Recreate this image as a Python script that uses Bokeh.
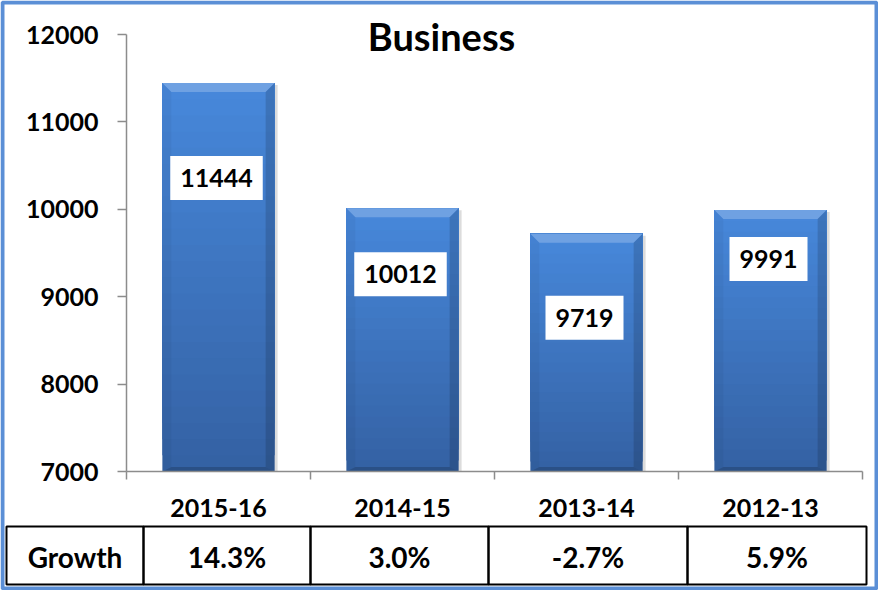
from bokeh.plotting import figure
from bokeh.models import (Range1d, LinearAxis, FixedTicker, BoxAnnotation, Label,
                          ColumnDataSource)
from bokeh.embed import file_html
from bokeh.resources import INLINE
from bokeh.core.properties import value

# ---------------- data ----------------
categories = ["2015-16", "2014-15", "2013-14", "2012-13"]
business = [11444, 10012, 9719, 9991]
growth = ["14.3%", "3.0%", "-2.7%", "5.9%"]
y_ticks = [7000, 8000, 9000, 10000, 11000, 12000]
row_label = "Growth"
title_text = "Business"

# ---------------- layout / style ----------------
W, H = 878, 590
PL, PR, PT, PB = 126, 862, 34, 471          # plot area (canvas px)
Y0, Y1 = 7000, 12000
FONT = "Lato"
FS = "25px"
BAR_W = 0.61
label_drop_px = [95, 66, 84, 49]            # label box centre below bar top (px)
table_cols = [6, 143, 310, 488, 687, 866]   # column edges (canvas px)
table_top, table_bot = 526, 584

n = len(categories)
px_y = (Y1 - Y0) / (PB - PT)                # data units per pixel (y)
px_x = n / (PR - PL)                        # data units per pixel (x)

p = figure(width=W, height=H,
           x_range=Range1d(-PL * px_x, n + (W - PR) * px_x),
           y_range=Range1d(Y0 - (H - PB) * px_y, Y1 + PT * px_y),
           output_backend="svg", toolbar_location=None,
           x_axis_type=None, y_axis_type=None,
           min_border=0, min_border_left=0, min_border_right=0,
           min_border_top=0, min_border_bottom=0)
p.outline_line_color = None
p.background_fill_color = "white"
p.border_fill_color = "white"

# ---------------- axes ----------------
yax = LinearAxis(ticker=FixedTicker(ticks=y_ticks), fixed_location=0, bounds=(Y0, Y1),
                 major_tick_in=0, major_tick_out=9,
                 minor_tick_line_color=None,
                 axis_line_color="#8c8c8c", major_tick_line_color="#8c8c8c",
                 axis_line_width=1.5, major_tick_line_width=1.5,
                 major_label_text_font=FONT, major_label_text_font_style="bold",
                 major_label_text_font_size=FS, major_label_text_color="black",
                 major_label_standoff=19)
p.add_layout(yax, "left")

centers = [i + 0.5 for i in range(n)]
xax = LinearAxis(ticker=FixedTicker(ticks=centers, minor_ticks=list(range(n + 1))),
                 fixed_location=Y0, bounds=(0, n),
                 major_label_overrides={c: cat for c, cat in zip(centers, categories)},
                 major_tick_line_color=None, major_tick_in=0, major_tick_out=0,
                 minor_tick_in=0, minor_tick_out=8,
                 minor_tick_line_color="#8c8c8c", minor_tick_line_width=1.5,
                 axis_line_color="#8c8c8c", axis_line_width=1.5,
                 major_label_text_font=FONT, major_label_text_font_style="bold",
                 major_label_text_font_size=FS, major_label_text_color="black",
                 major_label_standoff=19)
p.add_layout(xax, "below")

# ---------------- bars (gradient, overlapping slices) ----------------
def hex2rgb(h):
    h = h.lstrip("#")
    return tuple(int(h[i:i + 2], 16) for i in (0, 2, 4))

c_bot, c_top = hex2rgb("#3461a3"), hex2rgb("#4788db")
NS = 24
xs, bots, tops, cols = [], [], [], []
for k in range(NS):
    t = (k + 0.5) / NS
    rgb = tuple(int(round(a + (b - a) * t)) for a, b in zip(c_bot, c_top))
    for c, v in zip(centers, business):
        xs.append(c)
        bots.append(Y0 + (v - Y0) * k / NS)
        tops.append(v)
        cols.append("#%02x%02x%02x" % rgb)

# soft shadow
p.vbar(x=[c + 3 * px_x for c in centers], top=[v - 2 * px_y for v in business],
       bottom=Y0, width=BAR_W, fill_color="#9a9a9a", fill_alpha=0.35, line_color=None)
p.vbar(x=xs, bottom=bots, top=tops, width=BAR_W, fill_color=cols, line_color=None)

# bevel overlays
bx, bh = 9 * px_x, 9 * px_y
top_x, top_y, rt_x, rt_y, bt_x, bt_y, lf_x, lf_y = [], [], [], [], [], [], [], []
for c, v in zip(centers, business):
    l, r = c - BAR_W / 2, c + BAR_W / 2
    top_x.append([l, r, r - bx, l + bx]); top_y.append([v, v, v - bh, v - bh])
    rt_x.append([r, r, r - bx, r - bx]); rt_y.append([v, Y0, Y0 + bh * 0.5, v - bh])
    bt_x.append([l, r, r - bx, l + bx]); bt_y.append([Y0, Y0, Y0 + bh * 0.5, Y0 + bh * 0.5])
    lf_x.append([l, l, l + bx, l + bx]); lf_y.append([v, Y0, Y0 + bh * 0.5, v - bh])
p.patches(top_x, top_y, fill_color="white", fill_alpha=0.22, line_color=None)
p.patches(lf_x, lf_y, fill_color="black", fill_alpha=0.04, line_color=None)
p.patches(rt_x, rt_y, fill_color="black", fill_alpha=0.14, line_color=None)
p.patches(bt_x, bt_y, fill_color="black", fill_alpha=0.18, line_color=None)

# ---------------- value labels ----------------
lab_src = ColumnDataSource(dict(
    x=centers,
    y=[v - d * px_y for v, d in zip(business, label_drop_px)],
    t=[str(v) for v in business]))
p.text(x="x", y="y", text="t", source=lab_src, x_offset=-2,
       text_font=value(FONT), text_font_style="bold", text_font_size=FS,
       text_color="black", text_align="center", text_baseline="middle",
       background_fill_color="white", padding=(10, 13))

# ---------------- title ----------------
p.add_layout(Label(x=441, y=35, x_units="canvas", y_units="canvas", text=title_text,
                   text_align="center", text_baseline="middle", text_font=FONT,
                   text_font_style="bold", text_font_size="38px", text_color="black"))

# ---------------- growth table ----------------
for i in range(len(table_cols) - 1):
    p.add_layout(BoxAnnotation(left=table_cols[i], right=table_cols[i + 1],
                               top=table_top, bottom=table_bot,
                               left_units="canvas", right_units="canvas",
                               top_units="canvas", bottom_units="canvas",
                               fill_color=None, line_color="black", line_alpha=1.0,
                               line_width=2))
cells = [row_label] + growth
for i, txt in enumerate(cells):
    p.add_layout(Label(x=(table_cols[i] + table_cols[i + 1]) / 2,
                       y=(table_top + table_bot) / 2 + 1,
                       x_units="canvas", y_units="canvas", text=txt,
                       text_align="center", text_baseline="middle", text_font=FONT,
                       text_font_style="bold", text_font_size="28px", text_color="black"))

# ---------------- outer border ----------------
p.add_layout(BoxAnnotation(left=2, right=W - 2, top=2, bottom=H - 2,
                           left_units="canvas", right_units="canvas",
                           top_units="canvas", bottom_units="canvas",
                           fill_color=None, line_color="#5b8fd6", line_alpha=1.0,
                           line_width=4))

open("out.html", "w").write(file_html(p, INLINE))
